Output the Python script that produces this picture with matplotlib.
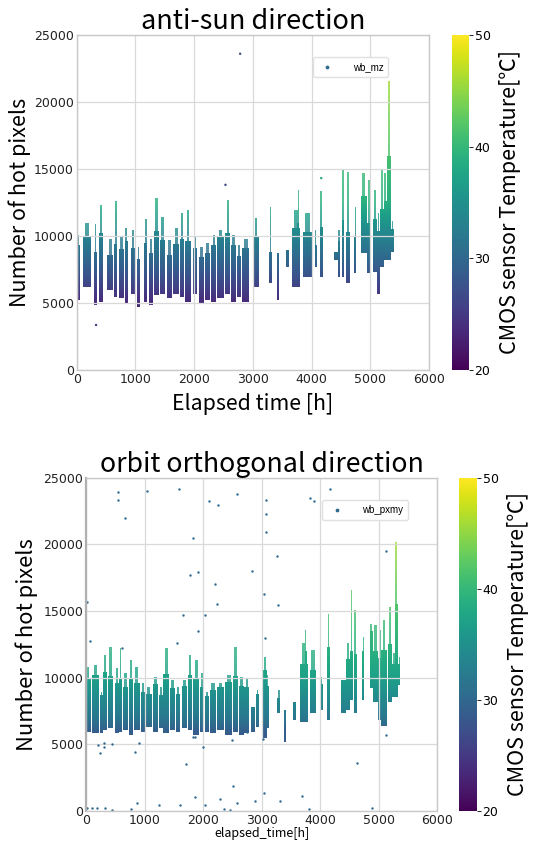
import matplotlib
matplotlib.use("Agg")
import matplotlib.pyplot as plt
import numpy as np
from matplotlib.patches import PathPatch
from matplotlib.path import Path as MPath

plt.rcParams["font.family"] = ["Noto Sans CJK JP", "DejaVu Sans"]

# ---- anti-sun direction (wb_mz): streaks of points
# start/end time [h], lowest count, top of the dense part, highest count
TOP_T0 = [0, 115, 295, 375, 520, 636, 727, 815, 920, 1034, 1148, 1240, 1318, 1420, 1534,
          1648, 1761, 1852, 1977, 2080, 2182, 2295, 2386, 2534, 2625, 2739, 2818, 3023,
          3273, 3410, 3557, 3670, 3750, 3852, 4057, 4136, 4375, 4443, 4517, 4590, 4727,
          4841, 4943, 5045, 5114, 5170, 5227, 5284, 5352]
TOP_T1 = [57, 240, 340, 455, 625, 693, 800, 880, 995, 1080, 1205, 1295, 1409, 1506, 1620,
          1750, 1830, 1943, 2057, 2170, 2273, 2375, 2511, 2614, 2716, 2795, 2943, 3097,
          3324, 3443, 3614, 3807, 3795, 4006, 4091, 4193, 4443, 4489, 4557, 4648, 4761,
          4943, 5011, 5114, 5170, 5227, 5284, 5352, 5398]
TOP_LO = [5230, 6200, 4850, 5100, 6000, 5480, 5350, 5000, 5700, 4700, 5100, 4850, 5600,
          5700, 5350, 5700, 5480, 5100, 5700, 5000, 5230, 5100, 5350, 5700, 5100, 5480,
          5100, 6200, 6470, 5230, 7700, 6200, 9000, 6970, 7720, 6970, 8200, 6970, 6970,
          6470, 7220, 8700, 7220, 7340, 5700, 7720, 8200, 8200, 8840]
TOP_CORE = [9300, 9900, 8800, 10200, 8600, 9400, 9000, 9600, 9100, 8300, 9500, 8700,
            10400, 9700, 8600, 9400, 9800, 9600, 9100, 8400, 8700, 9300, 9900, 10200,
            9300, 8500, 9100, 10000, 8800, 8700, 8960, 10600, 11000, 10300, 9300, 10700,
            8840, 9600, 11200, 10300, 10000, 13000, 11000, 11300, 10400, 12000, 12600,
            16000, 10500]
TOP_HI = [10080, 11000, 10900, 12300, 9800, 12600, 9900, 10600, 10450, 9200, 11250, 9800,
          12800, 11450, 9700, 10600, 11700, 11950, 9960, 9200, 9500, 10080, 10450, 12700,
          10080, 9340, 9760, 11330, 12200, 8700, 8960, 11950, 13450, 11700, 10450, 13330,
          8840, 10450, 14900, 14800, 12200, 14700, 14200, 13450, 11700, 14950, 14700,
          21540, 11150]
TOP_OUT_T = [2784, 2534, 330, 4165]
TOP_OUT_V = [23600, 13820, 3360, 14320]
TOP_OUT_TEMP = [27, 26, 25, 38]
# count -> sensor temperature, as seen in the colours
TOP_COLOR_COUNTS = [0, 5000, 7500, 10000, 12500, 15000, 21500, 25000]
TOP_COLOR_TEMPS = [21, 23.5, 28.5, 33.5, 39, 40.5, 46, 48]

# ---- orbit orthogonal direction (wb_pxmy)
BOT_T0 = [0, 102, 239, 296, 375, 489, 565, 625, 728, 819, 932, 1023, 1148, 1251, 1319,
          1433, 1535, 1632, 1735, 1831, 1944, 2030, 2115, 2240, 2376, 2513, 2615, 2706,
          2820, 2899, 3013, 3081, 3263, 3388, 3536, 3661, 3735, 3820, 4002, 4116, 4361,
          4446, 4514, 4571, 4719, 4844, 4901, 4992, 5043, 5156, 5219, 5270, 5333]
BOT_T1 = [80, 227, 284, 352, 466, 557, 614, 716, 807, 921, 1012, 1126, 1228, 1308, 1421,
          1518, 1603, 1728, 1819, 1933, 2013, 2103, 2228, 2354, 2501, 2604, 2695, 2786,
          2888, 2956, 3093, 3127, 3320, 3411, 3581, 3792, 3775, 3934, 4048, 4173, 4434,
          4514, 4559, 4628, 4753, 4901, 4986, 5043, 5139, 5219, 5287, 5333, 5367]
BOT_LO = [5950, 5820, 5820, 6070, 6200, 5820, 5950, 6070, 5700, 6070, 5950, 6320, 5950,
          6200, 5820, 6070, 5950, 6200, 6070, 5700, 5950, 5950, 5820, 6070, 5700, 5950,
          5700, 5820, 5950, 6320, 5450, 6200, 7320, 5200, 6820, 6690, 9000, 7320, 7570,
          6820, 7320, 7570, 8320, 7320, 8320, 9190, 8190, 6820, 6400, 8190, 8570, 8570, 9440]
BOT_CORE = [9900, 10200, 8700, 10400, 10100, 9600, 10000, 9300, 9900, 9600, 8900, 8800,
            9500, 8700, 10300, 9200, 8800, 9400, 10200, 9900, 9300, 8600, 9100, 9300,
            9700, 10100, 9400, 9300, 7820, 8800, 10600, 9400, 8500, 7570, 8190, 11000,
            12000, 10600, 9500, 12300, 9800, 11400, 12000, 11800, 12000, 13500, 12000,
            11500, 12100, 12500, 11000, 15500, 11000]
BOT_HI = [10770, 10940, 8940, 11690, 12270, 10690, 12190, 10320, 11320, 10820, 9570, 9320,
          10070, 9320, 12240, 9820, 9320, 9820, 11690, 11320, 10320, 8940, 9570, 9570,
          10190, 12320, 10070, 9940, 7820, 9070, 11570, 10190, 9070, 7570, 8190, 12570,
          13560, 12070, 10070, 14810, 9820, 12570, 16560, 15060, 13060, 14060, 13940,
          13560, 14310, 15310, 11820, 20180, 11570]
BOT_OUT_T = [23, 68, 551, 551, 665, 608, 1035, 1586, 1660, 1558, 1831, 1774, 1916, 1916,
             2030, 2103, 2251, 2200, 2240, 2581, 2843, 3041, 3081, 3081, 3081, 3263, 3286,
             3053, 3820, 3894, 4162, 5128, 4628, 1706, 239, 836,
             1870, 2030, 2285, 2513, 2581, 2882, 3041, 3320, 3695, 1251, 1603, 876, 762,
             23, 97, 182, 324, 438, 2354, 2456, 3809, 4889,
             5117, 2001, 210, 313, 313, 438, 910, 1831, 1870, 2501, 2757, 3024]
BOT_OUT_V = [15690, 12740, 23930, 23310, 22010, 12240, 24000, 24130, 14690, 12610, 20510,
             17740, 17940, 13510, 14690, 23260, 22930, 17010, 15560, 23760, 17990, 16310,
             23360, 22310, 20930, 19130, 15440, 13010, 23480, 23230, 24180, 19510, 3570,
             3520, 4320, 4450,
             1070, 450, 870, 1870, 620, 770, 1370, 750, 1120, 450, 450, 620, 125,
             200, 250, 250, 200, 75, 125, 75, 125, 250,
             5700, 4820, 4950, 5070, 4820, 5000, 5070, 5570, 5520, 5320, 5950, 5370]
BOT_OUT_TEMP = 30
BOT_COLOR_COUNTS = [0, 6000, 7000, 10000, 12000, 16500, 20000, 25000]
BOT_COLOR_TEMPS = [24, 29, 32, 37, 39, 42.5, 46, 48]

X_TICKS = [0, 1000, 2000, 3000, 4000, 5000, 6000]
Y_TICKS = [0, 5000, 10000, 15000, 20000, 25000]
CB_TICKS = [20, 30, 40, 50]
T_MIN, T_MAX = 20, 50
TICK_FONT = ["DejaVu Sans"]


def gradient_through(ax, bars, counts, temps, alpha):
    paths = [b.get_path().transformed(b.get_patch_transform()) for b in bars]
    clip = PathPatch(MPath.make_compound_path(*paths), transform=ax.transData,
                     facecolor="none", edgecolor="none")
    ax.add_patch(clip)
    ys = np.linspace(0, 25000, 600)
    grad = np.interp(ys, counts, temps)[:, None]
    im = ax.imshow(grad, extent=[0, 6000, 0, 25000], origin="lower", aspect="auto",
                   cmap="viridis", vmin=T_MIN, vmax=T_MAX, interpolation="bilinear",
                   alpha=alpha)
    im.set_clip_path(clip)
    return im


def draw_streaks(ax, t0, t1, lo, core, hi, counts, temps):
    t0 = np.asarray(t0, float)
    w = np.asarray(t1, float) - t0
    # dense body of each streak
    body = ax.bar(t0, np.subtract(core, lo), width=w, bottom=lo,
                  align="edge", color="none", linewidth=0)
    # sparse upper tail, narrower and lighter
    tail = ax.bar(t0 + w * 0.5, np.subtract(hi, core), width=w * 0.5, bottom=core,
                  align="center", color="none", linewidth=0)
    gradient_through(ax, tail, counts, temps, 0.8)
    return gradient_through(ax, body, counts, temps, 1.0)


def style_axes(ax):
    ax.set_xlim(0, 6000)
    ax.set_ylim(0, 25000)
    ax.set_xticks(X_TICKS)
    ax.set_yticks(Y_TICKS)
    ax.grid(True, color="#d9d9d9", linewidth=0.9)
    ax.set_axisbelow(True)
    ax.tick_params(length=0, labelsize=9, colors="#222222", pad=2)
    for lab in ax.get_xticklabels() + ax.get_yticklabels():
        lab.set_family(TICK_FONT)
    for s in ax.spines.values():
        s.set_color("#c8c8c8")
        s.set_linewidth(1.0)


def add_colorbar(fig, im, cax):
    cb = fig.colorbar(im, cax=cax, ticks=CB_TICKS)
    cb.outline.set_visible(False)
    cb.ax.tick_params(labelsize=9, length=3, width=0.6, pad=1)
    for lab in cb.ax.get_yticklabels():
        lab.set_family(TICK_FONT)
    cb.set_label("CMOS sensor Temperature[℃]", fontsize=15.5, labelpad=6)


fig = plt.figure(figsize=(5.34, 8.43), dpi=100)
legend_font = {"family": ["Liberation Sans", "DejaVu Sans"], "size": 7}

# top panel
ax1 = fig.add_axes([0.1436, 0.5611, 0.6597, 0.3974])
im1 = draw_streaks(ax1, TOP_T0, TOP_T1, TOP_LO, TOP_CORE, TOP_HI,
                   TOP_COLOR_COUNTS, TOP_COLOR_TEMPS)
ax1.scatter(TOP_OUT_T, TOP_OUT_V, c=TOP_OUT_TEMP, cmap="viridis", vmin=T_MIN, vmax=T_MAX,
            s=3, linewidths=0)
style_axes(ax1)
h1 = ax1.scatter([], [], s=3, color=plt.cm.viridis(0.35), label="wb_mz")
ax1.legend(handles=[h1], loc="upper right", bbox_to_anchor=(0.898, 0.949),
           handletextpad=1.6, borderpad=0.5, framealpha=1,
           edgecolor="#e0e0e0", prop=legend_font)
ax1.set_title("anti-sun direction", fontsize=19.5, pad=2)
ax1.set_xlabel("Elapsed time [h]", fontsize=15.3, labelpad=5)
ax1.set_ylabel("Number of hot pixels", fontsize=15.5, labelpad=2)
cax1 = fig.add_axes([0.8464, 0.5611, 0.0318, 0.3974])
add_colorbar(fig, im1, cax1)

# bottom panel
ax2 = fig.add_axes([0.161, 0.038, 0.6579, 0.3953])
im2 = draw_streaks(ax2, BOT_T0, BOT_T1, BOT_LO, BOT_CORE, BOT_HI,
                   BOT_COLOR_COUNTS, BOT_COLOR_TEMPS)
ax2.scatter(BOT_OUT_T, BOT_OUT_V,
            color=plt.cm.viridis((BOT_OUT_TEMP - T_MIN) / (T_MAX - T_MIN)),
            s=3, linewidths=0)
style_axes(ax2)
ax2.spines["left"].set_color("#b0b0b0")
ax2.spines["left"].set_linewidth(1.6)
h2 = ax2.scatter([], [], s=3, color=plt.cm.viridis(0.35), label="wb_pxmy")
ax2.legend(handles=[h2], loc="upper right", bbox_to_anchor=(0.931, 0.948),
           handletextpad=1.6, borderpad=0.5, framealpha=1, edgecolor="#e0e0e0",
           prop=legend_font)
ax2.set_title("orbit orthogonal direction", fontsize=19.2, pad=3)
ax2.set_xlabel("elapsed_time[h]", fontsize=9, labelpad=0)
ax2.set_ylabel("Number of hot pixels", fontsize=15.8, labelpad=4)
cax2 = fig.add_axes([0.8596, 0.038, 0.0337, 0.3953])
add_colorbar(fig, im2, cax2)

fig.savefig("out.png", dpi=100)
